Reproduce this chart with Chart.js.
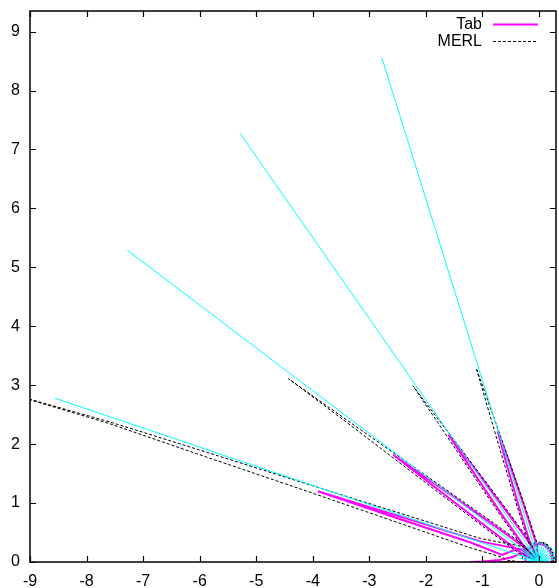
<!DOCTYPE html>
<html><head><meta charset="utf-8">
<script src="https://cdn.jsdelivr.net/npm/chart.js@4"></script>
<style>html,body{margin:0;padding:0;background:#fff}</style>
</head><body>
<canvas id="c" width="559" height="588" style="width:559px;height:588px;display:block"></canvas>
<script>
// ---- data ----
const xTickValues = [-9,-8,-7,-6,-5,-4,-3,-2,-1,0];
const yTickValues = [0,1,2,3,4,5,6,7,8,9];
const seriesNames = ['Tab','MERL'];

// incident directions (cyan), end points
const incidentEnds = [[-2.78,8.56],[-5.29,7.28],[-7.28,5.29],[-8.56,2.78]];
// small cyan spokes at the origin, end points
const spokeEnds = [[0.335,0.059],[0.319,0.116],[0.294,0.170],[0.260,0.219],[0.219,0.260],[0.170,0.294],[0.116,0.319],[0.059,0.335],[0,0.34],[-0.059,0.335],[-0.116,0.319],[-0.170,0.294],[-0.219,0.260],[-0.260,0.219],[-0.294,0.170],[-0.319,0.116],[-0.335,0.059]];

// Tab lobes (magenta)
const tab18 = [[0,0],[-0.062,0.348],[-0.269,0.964],[-0.538,1.718],[-0.73,2.22],[-0.586,1.702],[-0.355,0.936],[-0.157,0.317],[0,0]];
const tab36 = [[0,0],[-0.164,0.314],[-0.555,0.834],[-1.170,1.623],[-1.60,2.16],[-1.210,1.593],[-0.635,0.774],[-0.252,0.248],[0,0]];
const tab54 = [[0,0],[-0.254,0.247],[-0.788,0.617],[-1.617,1.177],[-2.58,1.82],[-1.651,1.127],[-0.846,0.535],[-0.318,0.157],[0,0]];
const tab72 = [[0,0],[-0.30,0.21],[-1.04,0.35],[-2.45,0.77],[-3.91,1.20],[-2.45,0.725],[-1.21,0.33],[-0.65,0.12],[-0.45,0.20],[-0.25,0.22],[0,0]];
const tabGrazing = [[0,0],[-0.2,0.12],[-0.33,0.15],[-0.45,0.09],[-0.7,0.035],[-1.0,0.01],[-1.22,0],[0,0]];
const tabArc = [[0.23,0],[0.225,0.08],[0.2,0.16],[0.155,0.235],[0.09,0.29],[0,0.31],[-0.09,0.29],[-0.16,0.24],[-0.21,0.16],[-0.235,0.08],[-0.24,0]];

// MERL lobes (black dashed)
const merl18 = [[0,0],[-0.046,0.354],[-0.258,0.969],[-0.597,1.910],[-0.946,2.849],[-1.11,3.29],[-0.974,2.839],[-0.683,1.882],[-0.382,0.927],[-0.178,0.310],[0,0]];
const merl36 = [[0,0],[-0.145,0.329],[-0.538,0.847],[-1.156,1.634],[-1.778,2.418],[-2.23,2.99],[-1.810,2.394],[-1.236,1.574],[-0.658,0.757],[-0.273,0.233],[0,0]];
const merl54 = [[0,0],[-0.240,0.266],[-0.772,0.640],[-1.602,1.199],[-2.431,1.758],[-3.261,2.316],[-4.43,3.11],[-3.283,2.284],[-2.477,1.692],[-1.671,1.101],[-0.864,0.510],[-0.332,0.136],[0,0]];
const merl72 = [[0,0],[-0.27,0.26],[-0.6,0.32],[-1.04,0.40],[-2.5,0.84],[-4.22,1.36],[-6.0,1.90],[-7.6,2.38],[-9.8,2.98],[-7.6,2.35],[-6.0,1.82],[-4.22,1.24],[-2.5,0.67],[-1.21,0.24],[-0.65,0.08],[-0.56,0.03],[-0.3,0],[0,0]];
const merlArcA = [[0.26,0],[0.255,0.07],[0.235,0.14],[0.195,0.22],[0.14,0.28],[0.07,0.318],[0,0.33],[-0.07,0.325],[-0.14,0.30],[-0.2,0.26],[-0.25,0.2],[-0.28,0.12],[-0.3,0.05],[-0.3,0]];
const merlArcB = [[0.27,0],[0.265,0.075],[0.245,0.15],[0.205,0.23],[0.145,0.29],[0.075,0.328],[0,0.34]];

// ---- chart ----
const FONT = "'Liberation Sans', Arial, Helvetica, sans-serif";
const toXY = a => a.map(p => ({x:p[0], y:p[1]}));
const base = {showLine:true, pointRadius:0, pointHoverRadius:0, fill:false, tension:0};
const datasets = [];
incidentEnds.forEach(e => datasets.push(Object.assign({}, base, {label:'incident', data:toXY([[0,0],e]), borderColor:'#00ffff', borderWidth:1})));
spokeEnds.forEach(e => datasets.push(Object.assign({}, base, {label:'spoke', data:toXY([[0,0],e]), borderColor:'#00ffff', borderWidth:1})));
[merl18, merl36, merl54, merl72, merlArcA].forEach(a => datasets.push(Object.assign({}, base, {label:seriesNames[1], data:toXY(a), borderColor:'#000000', borderWidth:1, borderDash:[3,2]})));
datasets.push(Object.assign({}, base, {label:seriesNames[1], data:toXY(merlArcB), borderColor:'#000000', borderWidth:1.5, borderDash:[3,2], borderDashOffset:2.5}));
[tab18, tab36, tab54, tab72, tabGrazing, tabArc].forEach(a => datasets.push(Object.assign({}, base, {label:seriesNames[0], data:toXY(a), borderColor:'#ff00ff', borderWidth:2})));

const framePlugin = {
  id:'frame',
  afterDatasetsDraw(chart){
    const ctx = chart.ctx, ca = chart.chartArea, xs = chart.scales.x, ys = chart.scales.y;
    ctx.save();
    ctx.strokeStyle = '#000'; ctx.lineWidth = 1.5; ctx.setLineDash([]);
    ctx.strokeRect(ca.left, ca.top, ca.right-ca.left, ca.bottom-ca.top);
    ctx.lineWidth = 1.2;
    ctx.beginPath();
    xTickValues.forEach(v => {
      const px = Math.round(xs.getPixelForValue(v)) + 0.5;
      ctx.moveTo(px, ca.bottom); ctx.lineTo(px, ca.bottom-6);
      ctx.moveTo(px, ca.top); ctx.lineTo(px, ca.top+6);
    });
    yTickValues.forEach(v => {
      const py = Math.round(ys.getPixelForValue(v)) + 0.5;
      ctx.moveTo(ca.left, py); ctx.lineTo(ca.left+6, py);
      ctx.moveTo(ca.right, py); ctx.lineTo(ca.right-6, py);
    });
    ctx.stroke();
    // key
    ctx.font = '16px ' + FONT; ctx.fillStyle = '#000';
    ctx.textAlign = 'right'; ctx.textBaseline = 'middle';
    ctx.fillText(seriesNames[0], 482, 25);
    ctx.fillText(seriesNames[1], 482, 42);
    ctx.strokeStyle = '#ff00ff'; ctx.lineWidth = 2;
    ctx.beginPath(); ctx.moveTo(493, 24.5); ctx.lineTo(538, 24.5); ctx.stroke();
    ctx.strokeStyle = '#000'; ctx.lineWidth = 1; ctx.setLineDash([3,2]);
    ctx.beginPath(); ctx.moveTo(493, 41.5); ctx.lineTo(538, 41.5); ctx.stroke();
    ctx.restore();
  }
};

function fixX(s){ s.height = 26; s.paddingLeft = 0; s.paddingRight = 0; s.paddingTop = 0; s.paddingBottom = 0; }
function fixY(s){ s.width = 30; s.paddingLeft = 0; s.paddingRight = 0; s.paddingTop = 0; s.paddingBottom = 0; }

new Chart(document.getElementById('c'), {
  type:'scatter',
  data:{datasets},
  options:{
    responsive:false, animation:false, devicePixelRatio:1,
    layout:{padding:{top:11, right:3, left:0, bottom:0}},
    plugins:{legend:{display:false}, tooltip:{enabled:false}},
    events:[],
    scales:{
      x:{type:'linear', min:-9, max:0.3,
        grid:{display:false, drawTicks:false}, border:{display:false},
        ticks:{stepSize:1, includeBounds:false, padding:10, color:'#000', maxRotation:0, autoSkip:false, font:{family:FONT, size:16}},
        afterFit: fixX},
      y:{type:'linear', min:0, max:9.35,
        grid:{display:false, drawTicks:false}, border:{display:false},
        ticks:{stepSize:1, includeBounds:false, padding:10, color:'#000', autoSkip:false, font:{family:FONT, size:16}},
        afterFit: fixY}
    }
  },
  plugins:[framePlugin]
});
</script>
</body></html>
